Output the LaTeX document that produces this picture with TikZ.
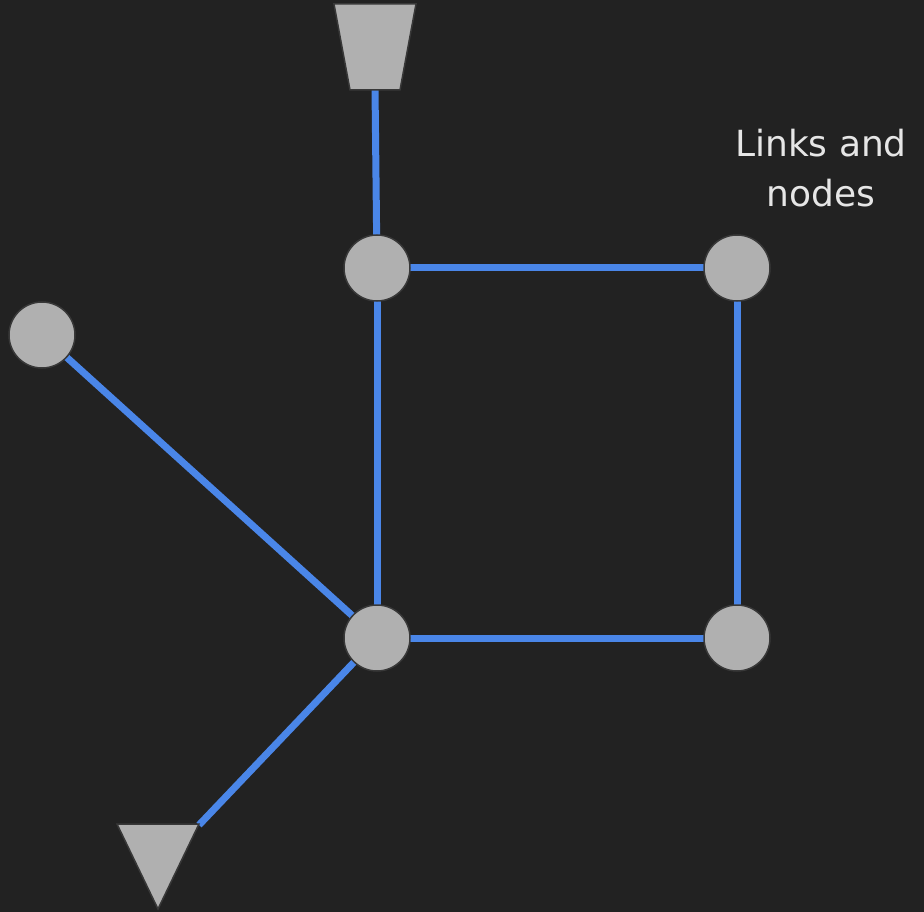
\documentclass[tikz,border=0pt]{standalone}
\usepackage{fontspec}
\setmainfont{DejaVu Sans}
\definecolor{bg}{HTML}{222222}
\definecolor{nodefill}{HTML}{B0B0B0}
\definecolor{nodeedge}{HTML}{383838}
\definecolor{linkblue}{HTML}{4A86E8}
\definecolor{labeltext}{HTML}{E6E6E6}
\begin{document}
\begin{tikzpicture}[x=1pt,y=-1pt,
  junction/.style={circle,fill=nodefill,draw=nodeedge,line width=1.5pt,minimum size=66pt,inner sep=0pt},
  link/.style={draw=linkblue,line width=7pt},
  endshape/.style={fill=nodefill,draw=nodeedge,line width=1.5pt,line join=miter}]
  % canvas
  \fill[bg] (0,0) rectangle (924,912);
  \useasboundingbox (0,0) rectangle (924,912);

  % junctions
  \path (377,268) coordinate (pa) (737,268) coordinate (pb) (42,335) coordinate (pc)
        (377,638) coordinate (pd) (737,638) coordinate (pe);
  % ends of the source and sink links
  \coordinate (src) at (375,88);
  \coordinate (snk) at (199,825);

  % links
  \draw[link] (src) -- (pa);
  \draw[link] (pa) -- (pb);
  \draw[link] (pa) -- (pd);
  \draw[link] (pb) -- (pe);
  \draw[link] (pd) -- (pe);
  \draw[link] (pc) -- (pd);
  \draw[link] (pd) -- (snk);

  % source (trapezium) and sink (triangle)
  \draw[endshape] (334,4) -- (416,4) -- (400,90) -- (350,90) -- cycle;
  \draw[endshape] (117,824) -- (199,824) -- (158,909) -- cycle;

  \node[junction] (a) at (pa) {};
  \node[junction] (b) at (pb) {};
  \node[junction] (c) at (pc) {};
  \node[junction] (d) at (pd) {};
  \node[junction] (e) at (pe) {};

  \node[text=labeltext,font=\fontsize{36}{50}\selectfont,align=center,anchor=base]
    (title) at (821,207) {Links and\\nodes};
\end{tikzpicture}
\end{document}
